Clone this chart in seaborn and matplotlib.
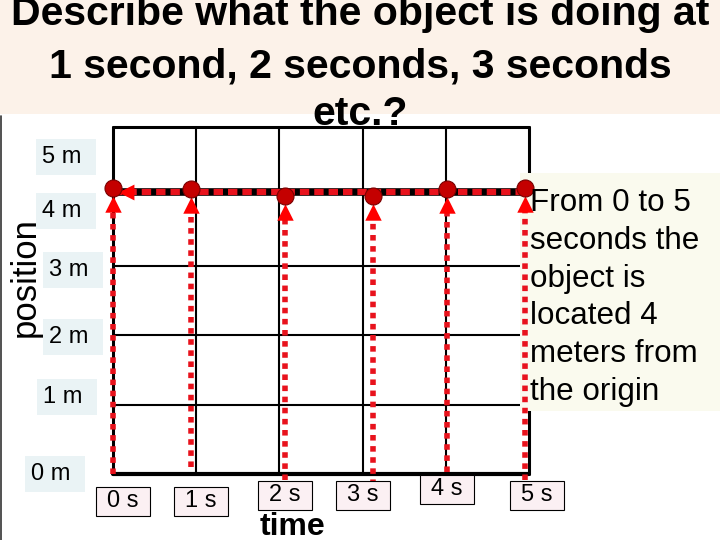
import numpy as np
import pandas as pd
import seaborn as sns
from matplotlib import pyplot as plt
from matplotlib.patches import Rectangle
from matplotlib.lines import Line2D

# values
times = [0, 1, 2, 3, 4, 5]
time_labels = ["0 s", "1 s", "2 s", "3 s", "4 s", "5 s"]
positions = [0, 1, 2, 3, 4, 5]
position_labels = ["0 m", "1 m", "2 m", "3 m", "4 m", "5 m"]
point_t = [0.0, 0.94, 2.07, 3.13, 4.01, 4.95]
point_pos = [4.12, 4.10, 4.01, 4.01, 4.10, 4.12]
line_start = [0.0, 0.1, -0.09, -0.16, 0.03, -0.09]
path_pos = 4.06

title_lines = [
    "Describe what the object is doing at",
    "1 second, 2 seconds, 3 seconds",
    "etc.?",
]
note = "From 0 to 5\nseconds the\nobject is\nlocated 4\nmeters from\nthe origin"

# layout (pixels in the 720x540 picture)
W, H = 720, 540
pos_label_px = [(51, 474), (63, 397), (69, 337), (69, 270), (62, 211), (62, 157)]
time_label_px = [(123, 501), (201, 501), (285, 495), (363, 495), (447, 489), (537, 495)]
title_baselines = [25, 78, 125]

RED = "#E8121C"
DOT = "#C40000"

sns.set_style("white")
plt.rcParams["font.family"] = ["Liberation Sans", "DejaVu Sans"]
plt.rcParams["text.color"] = "black"

fig = plt.figure(figsize=(7.2, 5.4), dpi=100)


def fx(px):
    return px / W


def fy(py):
    return 1 - py / H


# title band
fig.add_artist(Rectangle((0, fy(114)), 1, 114 / H, transform=fig.transFigure,
                         facecolor="#FCF2E9", edgecolor="none", zorder=0))
fig.add_artist(Line2D([fx(1), fx(1)], [0, fy(116)], transform=fig.transFigure,
                      color="#333333", lw=1.2))
for line, b in zip(title_lines, title_baselines):
    fig.text(0.5, fy(b), line, ha="center", va="baseline", fontsize=29.5,
             fontweight="bold")

ax = fig.add_axes([fx(113), fy(474), 416 / W, 347 / H])
ax.set_xlim(0, 5)
ax.set_ylim(0, 5)
ax.set_xticks([])
ax.set_yticks([])
for s in ax.spines.values():
    s.set_visible(False)
ax.patch.set_alpha(0)

# grid
for t in times[1:-1]:
    ax.axvline(t, color="black", lw=1.5, zorder=2)
for p in positions[1:4]:
    ax.axhline(p, color="black", lw=1.5, zorder=2)
ax.axhline(5, color="black", lw=2.2, zorder=2, clip_on=False)
ax.axvline(5, color="black", lw=2.2, zorder=2, clip_on=False)
ax.axvline(0, color="black", lw=2.2, zorder=2, clip_on=False)
ax.axhline(0, color="black", lw=3.0, zorder=2, clip_on=False)

# note box on the right (covers the grid, under the marks)
ax.add_patch(Rectangle(((520 - 113) / 416, (474 - 411) / 347), (W - 520) / 416,
                       (411 - 173) / 347, transform=ax.transAxes, clip_on=False,
                       facecolor="#FAFAEE", edgecolor="none", zorder=2.6))

# vertical dotted arrows
arrow_y = np.array(point_pos) - 0.23
vl = ax.vlines(point_t, line_start, arrow_y - 0.05, colors=RED, lw=4,
               linestyles=(0, (1, 1)), zorder=3)
vl.set_capstyle("butt")

# horizontal path at 4 m
path = pd.DataFrame({"t": [0, point_t[-1]], "pos": [path_pos, path_pos]})
sns.lineplot(data=path, x="t", y="pos", color="black", lw=5.5, ax=ax, zorder=3)
ax.plot(path["t"], path["pos"], color=RED, lw=4.5, dashes=(1.5, 0.8),
        solid_capstyle="butt", dash_capstyle="butt", zorder=3.5)

sns.scatterplot(x=point_t, y=arrow_y, marker="^", s=140, color="#FF0000",
                linewidth=0, ax=ax, zorder=5)
sns.scatterplot(x=[0.16], y=[path_pos], marker="<", s=130, color="#FF0000",
                linewidth=0, ax=ax, zorder=5)
sns.scatterplot(x=point_t, y=point_pos, s=150, color=DOT, edgecolor="#7A0000",
                linewidth=0.8, ax=ax, zorder=6)
for c in ax.collections:
    c.set_clip_on(False)
for l in ax.lines:
    l.set_clip_on(False)

# axis labels in boxes
for lab, (x, y) in zip(position_labels, pos_label_px):
    fig.add_artist(Rectangle((fx(x - 26), fy(y + 18)), 60 / W, 36 / H,
                             transform=fig.transFigure, facecolor="#EAF3F5",
                             edgecolor="none", zorder=1))
    fig.text(fx(x), fy(y), lab, ha="center", va="center", fontsize=17, zorder=2)

for lab, (x, y) in zip(time_labels, time_label_px):
    fig.add_artist(Rectangle((fx(x - 27), fy(y + 14.5)), 54 / W, 29 / H,
                             transform=fig.transFigure, facecolor="#FBF0F3",
                             edgecolor="black", lw=0.8, zorder=1))
    fig.text(fx(x), fy(y), lab, ha="center", va="center", fontsize=17, zorder=2)

fig.text(fx(25), fy(277), "position", rotation=90, ha="center", va="center",
         fontsize=25)
fig.text(fx(292), fy(535), "time", ha="center", va="baseline", fontsize=23,
         fontweight="bold")

# multiline baseline goes to the last line
fig.text(fx(530), fy(400), note, ha="left", va="baseline", fontsize=22.6,
         linespacing=1.34, zorder=3)

plt.savefig("out.png", dpi=100)
